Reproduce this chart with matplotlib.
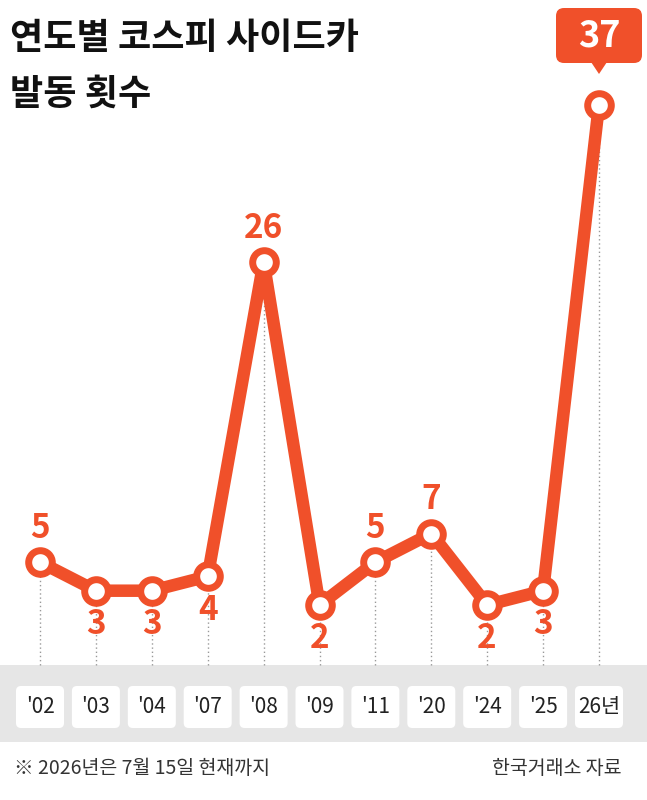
import matplotlib
matplotlib.use("Agg")
import matplotlib.pyplot as plt
from matplotlib.patches import FancyBboxPatch, Rectangle, Polygon
from matplotlib.transforms import IdentityTransform
plt.rcParams['font.family'] = ['Noto Sans CJK KR', 'DejaVu Sans']

years = ["'02", "'03", "'04", "'07", "'08", "'09", "'11", "'20", "'24", "'25", "26년"]
counts = [5, 3, 3, 4, 26, 2, 5, 7, 2, 3, 37]
label_pos = ['up', 'down', 'down', 'down', 'up', 'down', 'up', 'up', 'down', 'down', 'box']

W, H = 647, 800
fig = plt.figure(figsize=(W/100, H/100), dpi=100)
ax = fig.add_axes([0, 0, 1, 1])
dx = 55.9
uy = 14.3
ax.set_xlim(-40/dx, (W-40)/dx)
ax.set_ylim(2 - (H-605)/uy, 2 + 605/uy)
ax.axis('off')
orange = '#F0502A'
idt = IdentityTransform()

def py(v):  # pixel-from-top to data y
    return 2 + (605 - v)/uy

def xpx(i):
    return ax.transData.transform((i, 0))[0]

def rbox(x0, ytop, w, h, r, color, z):
    ax.add_patch(FancyBboxPatch((x0, H - ytop - h), w, h, boxstyle=f"round,pad=0,rounding_size={r}",
                 fc=color, ec='none', zorder=z, transform=idt))

ax.add_patch(Rectangle((0, 1 - 742/H), 1, (742-665)/H, transform=ax.transAxes,
                       color='#E6E6E6', zorder=0, lw=0))
for i, y in enumerate(years):
    cx = xpx(i)
    rbox(cx - 24, 686, 48, 42, 5, 'white', 1)
    ax.text(i, py(707), y, ha='center', va='center', fontsize=15, color='#222', zorder=2)
    ax.plot([i, i], [py(665), counts[i]], ls=(0, (1, 2)), color='#999', lw=1, zorder=1)

x = list(range(len(years)))
ax.plot(x, counts, color=orange, lw=9, zorder=3, solid_joinstyle='round')
ax.plot(x, counts, 'o', ms=17, mfc='white', mec=orange, mew=5, zorder=4)

for i, (c, p) in enumerate(zip(counts, label_pos)):
    if p == 'up':
        ax.text(i, c + 1.2, str(c), ha='center', va='bottom', fontsize=24, fontweight='bold', color=orange, zorder=5)
    elif p == 'down':
        ax.text(i, c - 1.2, str(c), ha='center', va='top', fontsize=24, fontweight='bold', color=orange, zorder=5)
    else:
        cx = xpx(i)
        rbox(cx - 43, 8, 86, 55, 8, orange, 5)
        ax.add_patch(Polygon([(cx-8, H-62), (cx+8, H-62), (cx, H-74)], closed=True,
                             fc=orange, ec='none', zorder=5, transform=idt))
        ax.text(i, py(36), str(c), ha='center', va='center', fontsize=26, fontweight='bold', color='white', zorder=6)

fig.text(10/W, 1-38/H, "연도별 코스피 사이드카", fontsize=26, fontweight='bold', va='center', color='#111')
fig.text(10/W, 1-94/H, "발동 횟수", fontsize=26, fontweight='bold', va='center', color='#111')
fig.text(14/W, 1-768/H, "※ 2026년은 7월 15일 현재까지", fontsize=14, va='center', color='#333')
fig.text(622/W, 1-768/H, "한국거래소 자료", fontsize=14, va='center', ha='right', color='#333')
fig.savefig("out.png", dpi=100, facecolor='white')
